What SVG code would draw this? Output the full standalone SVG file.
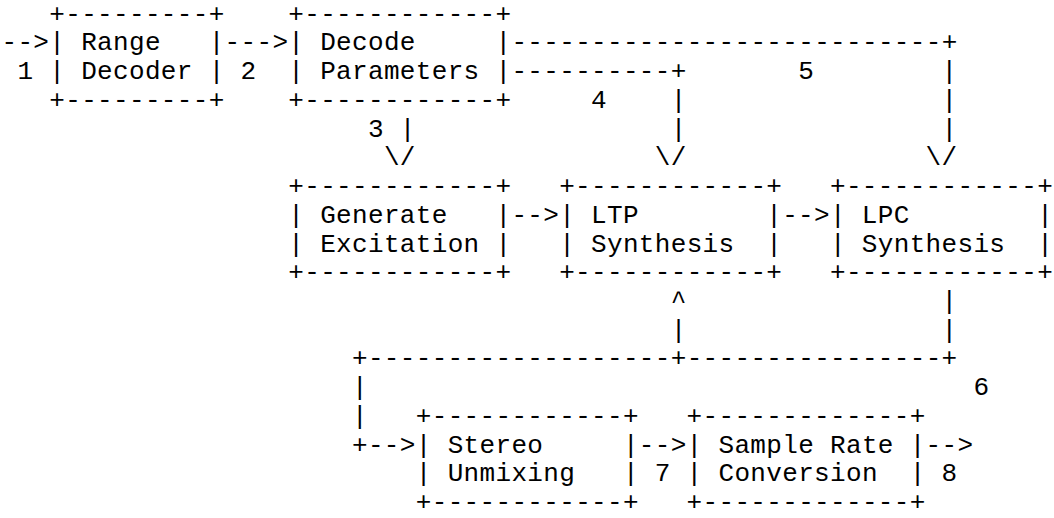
<svg xmlns="http://www.w3.org/2000/svg" width="1054" height="518" viewBox="0 0 1054 518" xml:space="preserve">
<style>
text { font-family: "Liberation Mono", "DejaVu Sans Mono", monospace; font-size: 26px; letter-spacing: 0.333px; fill: #000; white-space: pre; }
</style>
<rect x="0" y="0" width="1054" height="518" fill="#fff"/>
<g id="node-range-decoder">
<text x="49.3" y="21.7">+---------+</text>
<text x="49.3" y="50.43">| Range   |</text>
<text x="49.3" y="79.16">| Decoder |</text>
<text x="49.3" y="107.89">+---------+</text>
</g>
<g id="node-decode-parameters">
<text x="288.3" y="21.7">+------------+</text>
<text x="288.3" y="50.43">| Decode     |</text>
<text x="288.3" y="79.16">| Parameters |</text>
<text x="288.3" y="107.89">+------------+</text>
</g>
<g id="node-generate-excitation">
<text x="288.3" y="194.08">+------------+</text>
<text x="288.3" y="222.81">| Generate   |</text>
<text x="288.3" y="251.54">| Excitation |</text>
<text x="288.3" y="280.27">+------------+</text>
</g>
<g id="node-ltp-synthesis">
<text x="559.2" y="194.08">+------------+</text>
<text x="559.2" y="222.81">| LTP        |</text>
<text x="559.2" y="251.54">| Synthesis  |</text>
<text x="559.2" y="280.27">+------------+</text>
</g>
<g id="node-lpc-synthesis">
<text x="830" y="194.08">+------------+</text>
<text x="830" y="222.81">| LPC        |</text>
<text x="830" y="251.54">| Synthesis  |</text>
<text x="830" y="280.27">+------------+</text>
</g>
<g id="node-stereo-unmixing">
<text x="415.8" y="423.92">+------------+</text>
<text x="415.8" y="452.65">| Stereo     |</text>
<text x="415.8" y="481.38">| Unmixing   |</text>
<text x="415.8" y="510.11">+------------+</text>
</g>
<g id="node-sample-rate-conversion">
<text x="686.6" y="423.92">+-------------+</text>
<text x="686.6" y="452.65">| Sample Rate |</text>
<text x="686.6" y="481.38">| Conversion  |</text>
<text x="686.6" y="510.11">+-------------+</text>
</g>
<g id="connectors">
<text x="1.5" y="50.43">--&gt;</text>
<text x="17.4" y="79.16">1</text>
<text x="224.6" y="50.43">---&gt;</text>
<text x="240.5" y="79.16">2</text>
<text x="511.4" y="50.43">---------------------------+</text>
<text x="511.4" y="79.16">----------+</text>
<text x="798.2" y="79.16">5</text>
<text x="941.5" y="79.16">|</text>
<text x="591" y="107.89">4</text>
<text x="670.7" y="107.89">|</text>
<text x="941.5" y="107.89">|</text>
<text x="368" y="136.62">3</text>
<text x="399.8" y="136.62">|</text>
<text x="670.7" y="136.62">|</text>
<text x="941.5" y="136.62">|</text>
<text x="383.9" y="165.35">\/</text>
<text x="654.8" y="165.35">\/</text>
<text x="925.6" y="165.35">\/</text>
<text x="511.4" y="222.81">--&gt;</text>
<text x="782.2" y="222.81">--&gt;</text>
<text x="670.7" y="309">^</text>
<text x="941.5" y="309">|</text>
<text x="670.7" y="337.73">|</text>
<text x="941.5" y="337.73">|</text>
<text x="352" y="366.46">+-------------------+----------------+</text>
<text x="352" y="395.19">|</text>
<text x="973.4" y="395.19">6</text>
<text x="352" y="423.92">|</text>
<text x="352" y="452.65">+--&gt;</text>
<text x="638.8" y="452.65">--&gt;</text>
<text x="654.8" y="481.38">7</text>
<text x="925.6" y="452.65">--&gt;</text>
<text x="941.5" y="481.38">8</text>
</g>
</svg>
